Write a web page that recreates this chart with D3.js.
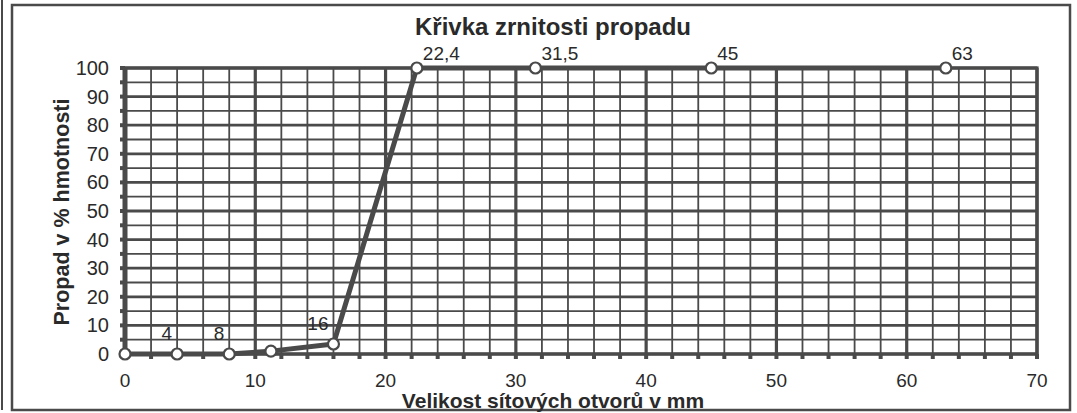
<!DOCTYPE html>
<html>
<head>
  <meta charset="utf-8">
  <script src="https://d3js.org/d3.v7.min.js"></script>
  <style>
    body { margin: 0; background: #fff; }
    text { font-family: "Liberation Sans", Arial, sans-serif; fill: #2a2a2a; }
  </style>
</head>
<body>
<script>
// sieve sizes (mm) and passing percentage
var sizes   = [0, 4, 8, 11.2, 16, 22.4, 31.5, 45, 63];
var passing = [0, 0, 0, 1, 3.5, 100, 100, 100, 100];
var labels  = ["", "4", "8", "", "16", "22,4", "31,5", "45", "63"];
var xTicks  = [0, 10, 20, 30, 40, 50, 60, 70];
var yTicks  = [0, 10, 20, 30, 40, 50, 60, 70, 80, 90, 100];

var W = 1077, H = 413;
var ink = "#4a4a4a";
var svg = d3.select("body").append("svg").attr("width", W).attr("height", H);

// frame lines from the scan
svg.append("line").attr("x1", 2).attr("y1", 0).attr("x2", 2).attr("y2", 410)
  .attr("stroke", ink).attr("stroke-width", 2);
svg.append("rect").attr("x", 12).attr("y", 5).attr("width", 1058).attr("height", 405)
  .attr("fill", "none").attr("stroke", ink).attr("stroke-width", 2.5);

var x = d3.scaleLinear().domain([0, 70]).range([125, 1037]);
var y = d3.scaleLinear().domain([0, 100]).range([354, 68]);

var g = svg.append("g");

// grid
g.selectAll(".vmin").data(d3.range(0, 71, 2)).enter().append("line")
  .attr("x1", d => x(d)).attr("x2", d => x(d)).attr("y1", y(0)).attr("y2", y(100))
  .attr("stroke", ink).attr("stroke-width", d => d % 10 == 0 ? 3.2 : 1.8);
g.selectAll(".hmin").data(d3.range(0, 101, 5)).enter().append("line")
  .attr("y1", d => y(d)).attr("y2", d => y(d)).attr("x1", x(0)).attr("x2", x(70))
  .attr("stroke", ink).attr("stroke-width", d => d % 10 == 0 ? 2.8 : 1.8);

// plot border
g.append("rect").attr("x", x(0)).attr("y", y(100)).attr("width", x(70) - x(0)).attr("height", y(0) - y(100))
  .attr("fill", "none").attr("stroke", ink).attr("stroke-width", 3.2);
g.append("line").attr("x1", x(0)).attr("x2", x(0)).attr("y1", y(0)).attr("y2", y(100))
  .attr("stroke", ink).attr("stroke-width", 5);

// small tick marks
g.selectAll(".xt").data(d3.range(0, 71, 2)).enter().append("line")
  .attr("x1", d => x(d)).attr("x2", d => x(d)).attr("y1", y(0)).attr("y2", y(0) + 5)
  .attr("stroke", ink).attr("stroke-width", 4);
g.selectAll(".yt").data(d3.range(0, 101, 5)).enter().append("line")
  .attr("x1", x(0) - 5).attr("x2", x(0)).attr("y1", d => y(d)).attr("y2", d => y(d))
  .attr("stroke", ink).attr("stroke-width", 4);

// tick labels
g.selectAll(".xl").data(xTicks).enter().append("text")
  .attr("x", d => x(d)).attr("y", 387).attr("text-anchor", "middle")
  .style("font-size", "19px").text(d => d);
g.selectAll(".yl").data(yTicks).enter().append("text")
  .attr("x", 109).attr("y", d => y(d) + 7).attr("text-anchor", "end")
  .style("font-size", "20px").text(d => d);

// titles
svg.append("text").attr("x", 553).attr("y", 35).attr("text-anchor", "middle")
  .style("font-size", "24px").style("font-weight", "bold").text("Křivka zrnitosti propadu");
svg.append("text").attr("x", 553).attr("y", 408).attr("text-anchor", "middle")
  .style("font-size", "21px").style("font-weight", "bold").text("Velikost sítových otvorů v mm");
svg.append("text").attr("transform", "translate(69,212) rotate(-90)").attr("text-anchor", "middle")
  .style("font-size", "21.5px").style("font-weight", "bold").text("Propad v % hmotnosti");

// curve
var pts = sizes.map((s, i) => ({s: s, p: passing[i], l: labels[i]}));
g.append("path").datum(pts)
  .attr("d", d3.line().x(d => x(d.s)).y(d => y(d.p)))
  .attr("fill", "none").attr("stroke", ink).attr("stroke-width", 5).attr("stroke-linejoin", "round");
g.selectAll(".pt").data(pts).enter().append("circle")
  .attr("cx", d => x(d.s)).attr("cy", d => y(d.p)).attr("r", 5.5)
  .attr("fill", "#fff").attr("stroke", ink).attr("stroke-width", 2.2);
g.selectAll(".pl").data(pts).enter().append("text")
  .attr("x", d => x(d.s) + (d.p > 50 ? 6 : -5)).attr("y", d => y(d.p) - (d.p > 50 ? 8 : 14))
  .attr("text-anchor", d => d.p > 50 ? "start" : "end").style("font-size", "19px").text(d => d.l);
</script>
</body>
</html>
